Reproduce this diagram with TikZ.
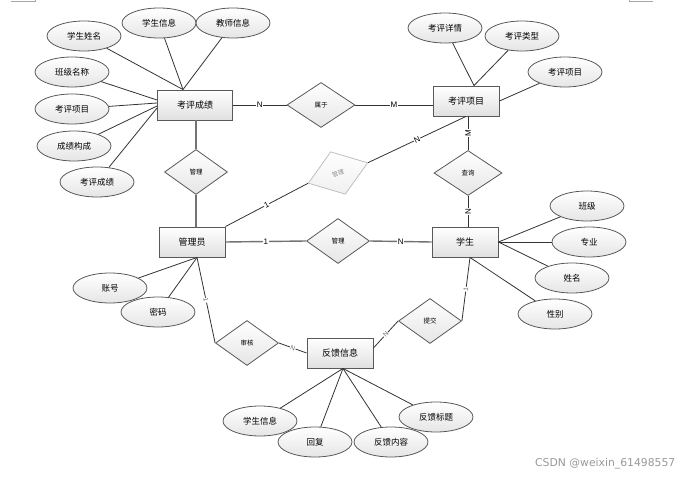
\documentclass[tikz,border=0pt]{standalone}
\usepackage{fontspec}
\setmainfont{Liberation Sans}
\newfontfamily\cjk{Noto Sans CJK SC}
\newfontfamily\wmfont{DejaVu Sans}
\usetikzlibrary{shapes.geometric,calc}
\tikzset{
  ent/.style={rectangle, draw=black!65, line width=0.9pt, top color=white, bottom color=black!12,
    minimum width=66pt, minimum height=30pt, inner sep=0pt, font=\cjk\fontsize{9}{10}\selectfont},
  attr/.style={ellipse, draw=black!65, line width=0.8pt, top color=white, bottom color=black!10,
    minimum width=74pt, minimum height=30pt, inner sep=0pt, font=\cjk\fontsize{8.5}{10}\selectfont},
  rel/.style={diamond, draw=black!65, line width=0.8pt, top color=white, bottom color=black!10,
    minimum width=63pt, minimum height=45pt, inner sep=0pt, font=\cjk\fontsize{6.5}{7}\selectfont},
  grel/.style={rel, draw=black!25, bottom color=black!6, text=black!45, font=\cjk\fontsize{6}{6}\selectfont},
  conn/.style={draw=black!80, line width=0.8pt},
  tconn/.style={draw=black!55, line width=1.4pt},
  lab/.style={fill=white, inner sep=0.6pt, font=\fontsize{8}{9}\selectfont},
  slab/.style={lab, sloped, font=\fontsize{6.5}{7}\selectfont, text=black!60},
}
\begin{document}
\begin{tikzpicture}[x=1pt,y=-1pt]
\useasboundingbox (0,0) rectangle (695,478);
% page corner marks
\draw[black!35, line width=0.6pt] (11,1) -- (35,1) -- (35,0);
\draw[black!35, line width=0.6pt] (629,0) -- (629,1) -- (653,1);

% entities
\node[ent, minimum width=75pt] (kpcj) at (195,105) {考评成绩};
\node[ent] (kpxm) at (466,101) {考评项目};
\node[ent] (gly) at (192,242) {管理员};
\node[ent] (xs) at (465,242) {学生};
\node[ent] (fk) at (340,353) {反馈信息};

% attributes
\node[attr] (a1) at (84,36) {学生姓名};
\node[attr] (a2) at (159,23) {学生信息};
\node[attr] (a3) at (233,23) {教师信息};
\node[attr] (a4) at (72,72) {班级名称};
\node[attr] (a5) at (72,109) {考评项目};
\node[attr] (a6) at (74,146) {成绩构成};
\node[attr] (a7) at (97,182) {考评成绩};
\node[attr] (b1) at (445,28) {考评详情};
\node[attr] (b2) at (522,36) {考评类型};
\node[attr] (b3) at (565,72) {考评项目};
\node[attr] (c1) at (587,206) {班级};
\node[attr] (c2) at (589,242) {专业};
\node[attr] (c3) at (572,278) {姓名};
\node[attr] (c4) at (555,314) {性别};
\node[attr] (d1) at (110,288) {账号};
\node[attr] (d2) at (158,312) {密码};
\node[attr] (e1) at (260,421) {学生信息};
\node[attr] (e2) at (315,442) {回复};
\node[attr] (e3) at (391,442) {反馈内容};
\node[attr] (e4) at (436,417) {反馈标题};

% relationships
\node[rel, minimum width=68pt] (r1) at (321,105) {属于};
\node[rel] (r2) at (196,172) {管理};
\node[grel, rotate=19] (r3) at (338,173) {管理};
\node[rel, minimum width=68pt] (r4) at (468,173) {查询};
\node[rel] (r5) at (338,241) {管理};
\node[rel] (r6) at (247,343) {审核};
\node[rel] (r7) at (430,321) {提交};

% attachment points
\coordinate (kt) at ($(kpcj.north)+(-12,0)$);
\coordinate (kxt) at ($(kpxm.north)+(8,0)$);
\coordinate (xsb) at ($(xs.south)+(5,0)$);
\coordinate (glyb) at ($(gly.south)+(5,0)$);
\coordinate (fkb) at ($(fk.south)+(3,0)$);
\coordinate (fke) at ($(fk.east)+(0,-5)$);

% attribute lines
\draw[conn] (a1) -- (kt);
\draw[conn] (a2) -- (kt);
\draw[conn] (a3) -- (kt);
\draw[conn] (a4) -- ($(kpcj.west)+(0,-5)$);
\draw[conn] (a5) -- ($(kpcj.west)+(0,-2)$);
\draw[conn] (a6) -- ($(kpcj.west)+(0,1)$);
\draw[conn] (a7) -- ($(kpcj.west)+(0,3)$);
\draw[conn] (b1) -- (kxt);
\draw[conn] (b2) -- (kxt);
\draw[conn] (b3) -- (kpxm.east);
\draw[conn] (c1) -- (xs.east);
\draw[conn] (c2) -- (xs.east);
\draw[conn] (c3) -- (xs.east);
\draw[conn] (c4) -- (xsb);
\draw[conn] (d1) -- (glyb);
\draw[conn] (d2) -- (glyb);
\draw[conn] (e1) -- (fkb);
\draw[conn] (e2) -- (fkb);
\draw[conn] (e3) -- (fkb);
\draw[conn] (e4) -- (fkb);

% relationship lines
\draw[conn] (kpcj.east) -- node[lab]{N} (r1.west);
\draw[conn] (r1.east) -- node[lab]{M} (r1.east -| kpxm.west);
\draw[tconn] (r2.north) -- (r2.north |- kpcj.south);
\draw[tconn] (r2.south) -- (r2.south |- gly.north);
\draw[conn] (gly.north east) -- node[lab, sloped]{1} (r3.west);
\draw[conn] (r3.east) -- node[lab, sloped]{N} (kpxm.south);
\draw[conn] (r4.north |- kpxm.south) -- node[lab, rotate=90]{M} (r4.north);
\draw[conn] (r4.south) -- node[lab, rotate=90]{N} (r4.south |- xs.north);
\draw[tconn] (gly.east) -- node[lab]{1} (r5.west);
\draw[tconn] (r5.east) -- node[lab]{N} (xs.west);
\draw[conn] (glyb) -- node[slab]{1} (r6.west);
\draw[conn] (r6.east) -- node[slab]{N} (fk.west);
\draw[conn] (fke) -- node[slab]{N} (r7.west);
\draw[conn] (r7.east) -- node[slab]{1} (xsb);

% watermark
\node[anchor=west, inner sep=0pt, text=black!40, font=\wmfont\fontsize{10.8}{12}\selectfont] (wm) at (535,464) {CSDN @weixin\_61498557};
\end{tikzpicture}
\end{document}
